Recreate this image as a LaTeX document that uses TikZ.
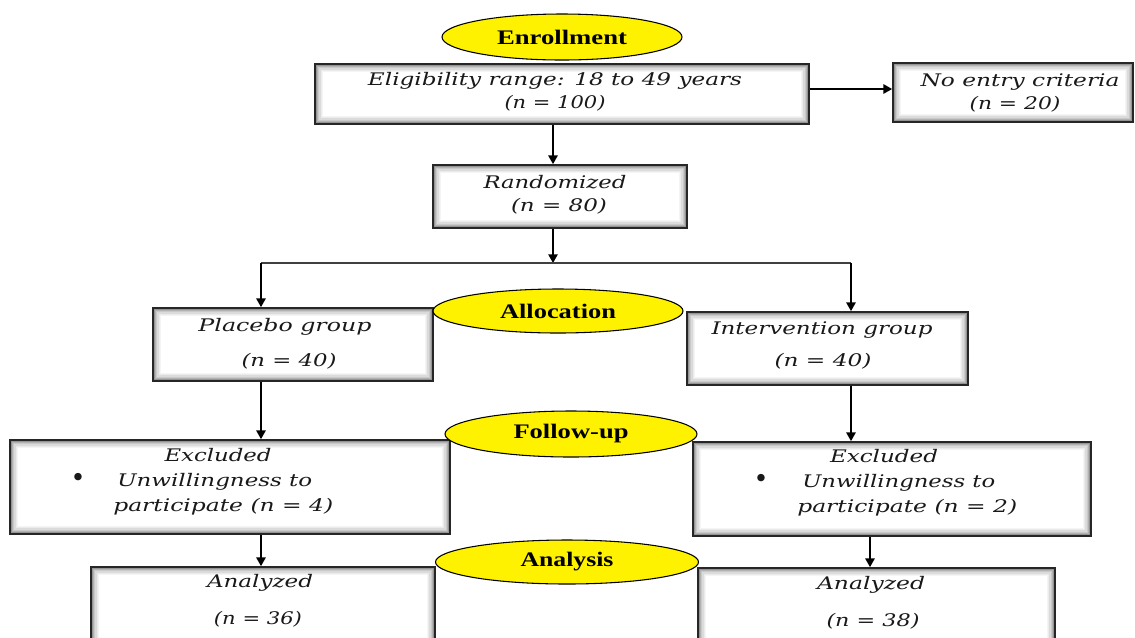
\documentclass[tikz,border=0pt]{standalone}
\usepackage{fontspec}
\usepackage{graphicx}
\usetikzlibrary{shapes.geometric,arrows.meta}
\newfontfamily\bodyf{DejaVu Serif}
\newfontfamily\labf{Liberation Serif}
\newdimen\pxu \pxu=0.75pt
\newcommand\tw[2]{\resizebox{#1\pxu}{\height}{#2}}
\tikzset{
  box/.style={draw=black!85, line width=1.3pt, fill=white, inner sep=0pt,
    path picture={
      \foreach \d/\c in {0.8/42,1.8/30,2.8/21,3.8/14,4.8/8,5.8/4}{
        \draw[black!\c, line width=0.9pt]
          ([shift={(\d pt,\d pt)}]path picture bounding box.south west) rectangle
          ([shift={(-\d pt,-\d pt)}]path picture bounding box.north east);
      }}},
  ell/.style={ellipse, draw=black, line width=0.8pt, fill=yellow, inner sep=0pt,
    font=\labf\bfseries\fontsize{15.5}{17}\selectfont},
  txt/.style={inner sep=0pt, text=black!90, font=\bodyf\itshape\fontsize{13}{15}\selectfont,
    text height=9pt, text depth=3pt},
  arr/.style={draw=black, line width=1.1pt, -{Triangle[length=6.5pt,width=7pt]}},
}
\newcommand\boxat[5]{\node[box, minimum width={(#4-#2)*0.75pt}, minimum height={(#5-#3)*0.75pt}]
  (#1) at ({(#2+#4)/2},{(#3+#5)/2}) {};}
\begin{document}
\begin{tikzpicture}[x=0.75pt,y=-0.75pt]
\useasboundingbox (0,0) rectangle (1135,637);
\clip (0,0) rectangle (1135,637);
% boxes
\boxat{elig}{315}{64}{809}{124}
\boxat{noentry}{893}{63}{1133}{122}
\boxat{rand}{433}{165}{687}{228}
\boxat{plac}{153}{308}{433}{381}
\boxat{interv}{687}{312}{968}{385}
\boxat{exclA}{10}{440}{450}{534}
\boxat{exclB}{693}{442}{1091}{536}
\boxat{analA}{91}{567}{435}{650}
\boxat{analB}{698}{568}{1055}{650}
% helper coordinates
\coordinate (colM) at (553,0);
\coordinate (split) at (553,263);
\coordinate (splitL) at (261,263);
\coordinate (splitR) at (851,263);
\coordinate (colR2) at (870,0);
\coordinate (rowN) at (0,89);
% texts
\node[txt] (t1) at (555,81) {\tw{374}{Eligibility range: 18 to 49 years}};
\node[txt] (t2) at (555,104) {\tw{101}{(n = 100)}};
\node[txt] (t3) at (1020,82) {\tw{199}{No entry criteria}};
\node[txt] (t4) at (1015,105) {\tw{91}{(n = 20)}};
\node[txt] (t5) at (555,184) {\tw{143}{Randomized}};
\node[txt] (t6) at (559,207) {\tw{96}{(n = 80)}};
\node[txt] (t7) at (285,327) {\tw{173}{Placebo group}};
\node[txt] (t8) at (289,362) {\tw{95}{(n = 40)}};
\node[txt] (t9) at (822,330) {\tw{221}{Intervention group}};
\node[txt] (t10) at (823,362) {\tw{97}{(n = 40)}};
\node[txt] (t11) at (218,457) {\tw{107}{Excluded}};
\node[txt, font=\bodyf\fontsize{19}{20}\selectfont] (t12) at (78,482) {•};
\node[txt, anchor=west] (t13) at (117,482) {\tw{195}{Unwillingness to}};
\node[txt, anchor=west] (t14) at (113,507) {\tw{220}{participate (n = 4)}};
\node[txt] (t15) at (884,458) {\tw{108}{Excluded}};
\node[txt, font=\bodyf\fontsize{19}{20}\selectfont] (t16) at (761,483) {•};
\node[txt, anchor=west] (t17) at (802,483) {\tw{193}{Unwillingness to}};
\node[txt, anchor=west] (t18) at (797,508) {\tw{220}{participate (n = 2)}};
\node[txt] (t19) at (260,583) {\tw{106}{Analyzed}};
\node[txt] (t20) at (258,620) {\tw{88}{(n = 36)}};
\node[txt] (t21) at (871,585) {\tw{108}{Analyzed}};
\node[txt] (t22) at (873,622) {\tw{93}{(n = 38)}};
% connectors
\draw[arr] (elig.east |- rowN) -- (noentry.west |- rowN);
\draw[arr] (elig.south -| colM) -- (rand.north -| colM);
\draw[arr] (rand.south -| colM) -- (split);
\draw[line width=0.8pt, black!75] (splitL) -- (splitR);
\draw[arr] (splitL) -- (plac.north -| splitL);
\draw[arr] (splitR) -- (interv.north -| splitR);
\draw[arr] (plac.south -| splitL) -- (exclA.north -| splitL);
\draw[arr] (interv.south -| splitR) -- (exclB.north -| splitR);
\draw[arr] (exclA.south -| splitL) -- (analA.north -| splitL);
\draw[arr] (exclB.south -| colR2) -- (analB.north -| colR2);
% stage ellipses
\node[ell, minimum width=240*0.75pt, minimum height=46*0.75pt] (enr) at (562,37) {\tw{130}{Enrollment}};
\node[ell, minimum width=250*0.75pt, minimum height=44*0.75pt] (alloc) at (558,311) {\tw{116}{Allocation}};
\node[ell, minimum width=252*0.75pt, minimum height=46*0.75pt] (follow) at (571,434) {\tw{115}{Follow-up}};
\node[ell, minimum width=263*0.75pt, minimum height=44*0.75pt] (analysis) at (567,562) {\tw{93}{Analysis}};
\end{tikzpicture}
\end{document}
